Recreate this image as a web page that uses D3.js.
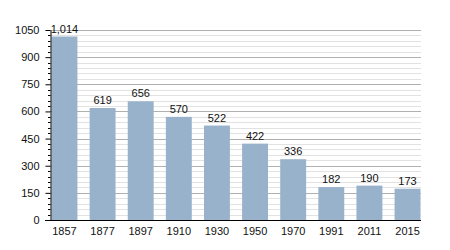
<!DOCTYPE html>
<html>
<head>
<meta charset="utf-8">
<script src="https://cdn.jsdelivr.net/npm/d3@7"></script>
<style>
  body { margin: 0; background: #fff; }
  svg text { font-family: "Liberation Sans", Arial, sans-serif; font-size: 11px; fill: #111; }
</style>
</head>
<body>
<div id="chart"></div>
<script>
var years = ["1857", "1877", "1897", "1910", "1930", "1950", "1970", "1991", "2011", "2015"];
var population = [1014, 619, 656, 570, 522, 422, 336, 182, 190, 173];
var yTicks = [0, 150, 300, 450, 600, 750, 900, 1050];

var width = 450,
  height = 250,
  barColor = "#98b2cc";

var svg = d3.select("#chart")
  .append("svg")
  .attr("width", width)
  .attr("height", height);

var x = d3.scaleBand()
  .domain(years)
  .range([51.5, 420.5])
  .paddingInner(0.32)
  .paddingOuter(0);

var y = d3.scaleLinear()
  .domain([0, 1050])
  .range([220, 30]);

// minor grid every 30, major every 150
var minor = d3.range(30, 1051, 30).filter(function (v) { return v % 150 != 0; });

svg.append("g")
  .selectAll("line")
  .data(minor)
  .enter().append("line")
  .attr("x1", 50).attr("x2", 421)
  .attr("y1", function (d) { return Math.round(y(d)) + 0.5; })
  .attr("y2", function (d) { return Math.round(y(d)) + 0.5; })
  .attr("stroke", "#e2e2e2");

svg.append("g")
  .selectAll("line")
  .data(yTicks.slice(1))
  .enter().append("line")
  .attr("x1", 50).attr("x2", 421)
  .attr("y1", function (d) { return Math.round(y(d)) + 0.5; })
  .attr("y2", function (d) { return Math.round(y(d)) + 0.5; })
  .attr("stroke", "#b0b0b0");

// bars
svg.append("g")
  .selectAll("rect")
  .data(population)
  .enter().append("rect")
  .attr("x", function (d, i) { return x(years[i]); })
  .attr("y", function (d) { return y(d); })
  .attr("width", x.bandwidth())
  .attr("height", function (d) { return y(0) - y(d); })
  .attr("fill", barColor);

// value labels
svg.append("g")
  .selectAll("text")
  .data(population)
  .enter().append("text")
  .attr("x", function (d, i) { return x(years[i]) + x.bandwidth() / 2; })
  .attr("y", function (d) { return y(d) - 4; })
  .attr("text-anchor", "middle")
  .text(function (d) { return d3.format(",")(d); });

// y axis
var yAxis = d3.axisLeft(y)
  .tickValues(yTicks)
  .tickFormat(d3.format("d"))
  .tickSize(5)
  .tickPadding(6)
  .tickSizeOuter(0);

var gy = svg.append("g")
  .attr("transform", "translate(50.5,0)")
  .call(yAxis);
gy.selectAll(".tick text").attr("font-size", null).attr("font-family", null);
gy.select(".domain").attr("stroke", "#000");

svg.append("g")
  .attr("transform", "translate(50.5,0)")
  .selectAll("line")
  .data(minor)
  .enter().append("line")
  .attr("x1", -2.5).attr("x2", 0)
  .attr("y1", function (d) { return Math.round(y(d)) + 0.5; })
  .attr("y2", function (d) { return Math.round(y(d)) + 0.5; })
  .attr("stroke", "#000");

// x axis
var xAxis = d3.axisBottom(x)
  .tickSize(0)
  .tickPadding(7)
  .tickSizeOuter(0);

var gx = svg.append("g")
  .attr("transform", "translate(0,220.5)")
  .call(xAxis);
gx.selectAll(".tick text").attr("font-size", null).attr("font-family", null);
gx.select(".domain").attr("d", "M45,0H421").attr("stroke", "#000");
</script>
</body>
</html>
